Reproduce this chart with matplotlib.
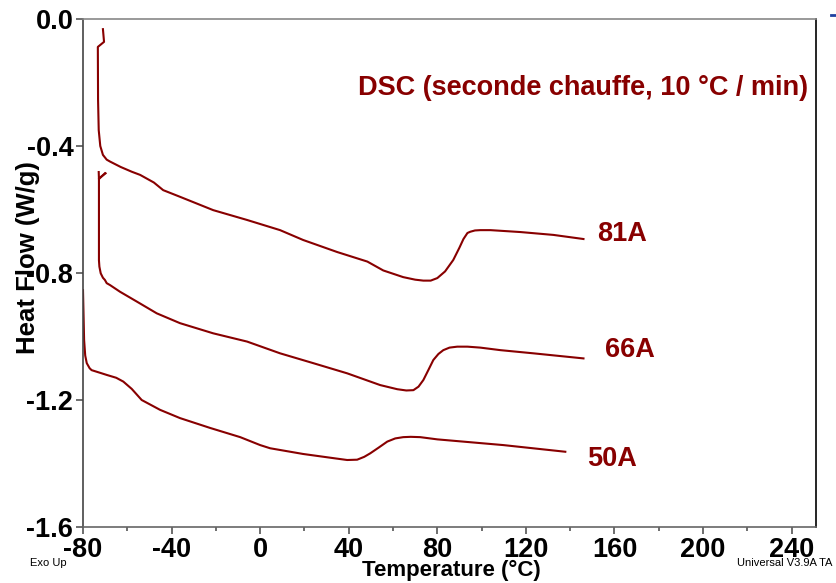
import matplotlib
matplotlib.use("Agg")
import matplotlib.pyplot as plt
from matplotlib.ticker import MultipleLocator
from matplotlib.lines import Line2D

plt.rcParams['font.family'] = ['Liberation Sans', 'DejaVu Sans']

# ---- data ----
t_81A = [-71.0, -70.5, -73.3, -73.2, -72.9, -72.2, -71.0, -69.3, -67.8, -63.0, -58.0, -54.2,
         -48.0, -43.8, -36.2, -21.2, -5.9, 9.0, 19.4, 34.8, 48.4, 55.6, 64.6, 70.0, 73.7, 77.0,
         80.0, 83.5, 87.2, 90.0, 91.8, 93.6, 94.9, 97.0, 99.4, 104.0, 117.5, 132.4, 146.0]
hf_81A = [-0.032, -0.072, -0.088, -0.255, -0.350, -0.400, -0.428, -0.443, -0.449, -0.466,
          -0.481, -0.491, -0.515, -0.539, -0.560, -0.602, -0.633, -0.665, -0.696, -0.734,
          -0.764, -0.792, -0.813, -0.821, -0.824, -0.824, -0.816, -0.795, -0.759, -0.720,
          -0.693, -0.674, -0.670, -0.666, -0.665, -0.665, -0.671, -0.680, -0.693]

t_66A = [-69.8, -72.8, -72.8, -72.6, -72.0, -71.0, -70.1, -69.3, -67.8, -63.3, -55.7, -46.7,
         -36.2, -21.2, -5.9, 9.0, 24.0, 39.3, 54.2, 61.9, 66.0, 69.2, 71.5, 73.7, 76.0, 78.2,
         80.5, 82.7, 85.5, 89.0, 93.6, 99.4, 108.5, 123.4, 146.0]
hf_66A = [-0.486, -0.502, -0.760, -0.780, -0.801, -0.815, -0.822, -0.832, -0.838, -0.859,
          -0.890, -0.927, -0.958, -0.990, -1.016, -1.053, -1.084, -1.116, -1.153, -1.166,
          -1.170, -1.169, -1.158, -1.137, -1.105, -1.074, -1.055, -1.043, -1.035, -1.032,
          -1.032, -1.035, -1.043, -1.053, -1.069]
t_66A_hook = [-72.9, -72.8, -70.1]
hf_66A_hook = [-0.482, -0.504, -0.486]

t_50A = [-80.0, -79.5, -79.0, -78.3, -77.0, -76.1, -72.0, -69.3, -65.0, -61.8, -58.0, -53.5,
         -45.2, -36.2, -22.6, -9.0, 0.0, 4.5, 19.4, 34.0, 39.3, 43.8, 47.0, 49.7, 53.5, 57.4,
         61.0, 64.6, 68.0, 72.3, 80.0, 109.8, 137.8]
hf_50A = [-0.854, -1.011, -1.060, -1.084, -1.100, -1.106, -1.115, -1.121, -1.130, -1.142,
          -1.165, -1.200, -1.231, -1.257, -1.288, -1.317, -1.342, -1.352, -1.370, -1.384,
          -1.389, -1.388, -1.379, -1.368, -1.350, -1.331, -1.321, -1.317, -1.316, -1.317,
          -1.324, -1.342, -1.363]

curve_labels = ["81A", "66A", "50A"]
label_pos = [(152.3, -0.677), (155.5, -1.043), (147.8, -1.386)]
x_ticks = [-80, -40, 0, 40, 80, 120, 160, 200, 240]
y_ticks = [-1.6, -1.2, -0.8, -0.4, 0.0]

RED = '#880000'

fig = plt.figure(figsize=(8.37, 5.83), dpi=100)
ax = fig.add_axes([83/837, 1-527/583, (816-83)/837, (527-19)/583])

ax.plot(t_81A, hf_81A, color=RED, lw=1.5)
ax.plot(t_66A, hf_66A, color=RED, lw=1.5)
ax.plot(t_66A_hook, hf_66A_hook, color=RED, lw=1.5)
ax.plot(t_50A, hf_50A, color=RED, lw=1.5)

for lab, (x, y) in zip(curve_labels, label_pos):
    ax.text(x, y, lab, color=RED, fontsize=19.5, fontweight='bold', va='center', ha='left')

ax.text((808-83)/733, 1-(88-19)/508, "DSC (seconde chauffe, 10 °C / min)", transform=ax.transAxes,
        color=RED, fontsize=19.5, fontweight='bold', ha='right', va='center')

ax.set_xlim(-80, 251)
ax.set_ylim(-1.6, 0.0)
ax.set_xticks(x_ticks)
ax.set_xticklabels([str(v) for v in x_ticks])
ax.set_yticks(y_ticks)
ax.set_yticklabels([f"{v:.1f}" for v in y_ticks])
ax.xaxis.set_minor_locator(MultipleLocator(20))

ax.tick_params(axis='both', which='major', direction='out', length=5, width=1.2,
               color='#555555', labelsize=19.5, pad=2)
ax.tick_params(axis='x', which='minor', direction='out', length=3, width=1.2, color='#555555')
for lbl in ax.get_xticklabels() + ax.get_yticklabels():
    lbl.set_fontweight('bold')

ax.spines['left'].set_color('#444444')
ax.spines['bottom'].set_color('#666666')
ax.spines['top'].set_color('#888888')
ax.spines['right'].set_color('#000000')
for s in ax.spines.values():
    s.set_linewidth(1.2)

fig.text(28/837, 1-258/583, "Heat Flow (W/g)", rotation=90, fontsize=18.5, fontweight='bold',
         ha='center', va='center')
fig.text(451/837, 1-570/583, "Temperature (°C)", fontsize=16, fontweight='bold',
         ha='center', va='center')
fig.text(30/837, 1-563/583, "Exo Up", fontsize=8, ha='left', va='center')
fig.text(832/837, 1-563/583, "Universal V3.9A TA", fontsize=8, ha='right', va='center')

fig.add_artist(Line2D([831/837, 837/837], [1-15/583, 1-15/583], color='#2040a0', lw=2))

fig.savefig("out.png", dpi=100)
